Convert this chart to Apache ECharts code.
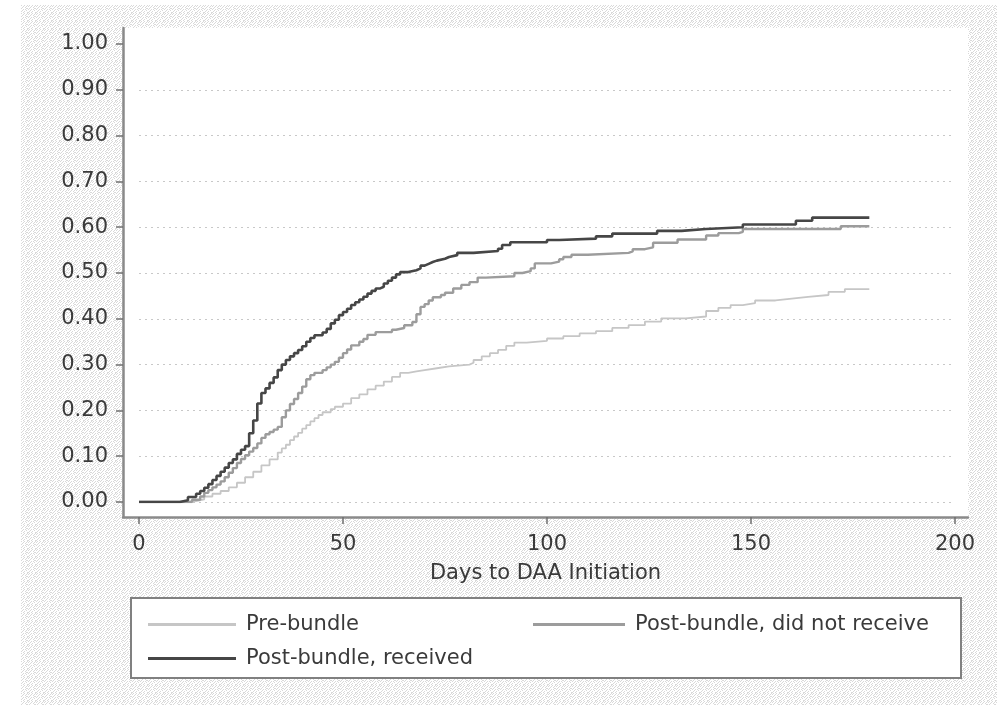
<!DOCTYPE html>
<html><head><meta charset="utf-8">
<script src="https://cdn.jsdelivr.net/npm/echarts@6/dist/echarts.min.js"></script>
<style>html,body{margin:0;padding:0;background:#fff}#c{width:997px;height:706px}</style>
</head><body><div id="c"></div>
<script>
const seriesNames = ['Pre-bundle', 'Post-bundle, did not receive', 'Post-bundle, received'];
const xTickValues = [0, 50, 100, 150, 200];
const yTickLabels = ['0.00','0.10','0.20','0.30','0.40','0.50','0.60','0.70','0.80','0.90','1.00'];
const xAxisTitle = 'Days to DAA Initiation';

const preDays = [0,12,14,16,18,20,22,24,26,28,30,32,34,35,36,37,38,39,40,41,42,43,44,45,47,48,50,52,54,56,58,60,62,64,66,68,70,73,76,81,82,84,86,88,90,92,95,100,104,108,112,116,120,124,128,134,139,142,145,148,151,156,160,164,169,173,179];
const preVals = [0,0.002,0.006,0.012,0.018,0.024,0.032,0.042,0.054,0.066,0.08,0.093,0.108,0.117,0.125,0.135,0.143,0.151,0.16,0.168,0.176,0.183,0.19,0.196,0.203,0.208,0.215,0.227,0.235,0.246,0.254,0.263,0.273,0.282,0.285,0.288,0.292,0.296,0.3,0.304,0.31,0.318,0.325,0.332,0.341,0.348,0.352,0.357,0.362,0.368,0.373,0.38,0.386,0.394,0.401,0.405,0.417,0.424,0.43,0.434,0.44,0.444,0.448,0.452,0.459,0.465,0.465];

const notRecDays = [0,13,15,16,17,18,19,20,21,22,23,24,25,26,27,28,29,30,31,32,33,34,35,36,37,38,39,40,41,42,43,45,46,47,48,49,50,51,52,54,55,56,58,62,63,65,67,68,69,70,71,72,74,75,77,79,81,83,85,92,94,96,97,101,103,104,106,110,120,121,124,126,132,139,142,147,148,172,179];
const notRecVals = [0,0.005,0.012,0.02,0.026,0.032,0.038,0.045,0.054,0.064,0.074,0.085,0.094,0.102,0.11,0.118,0.128,0.14,0.148,0.153,0.158,0.164,0.185,0.2,0.214,0.225,0.238,0.252,0.268,0.277,0.282,0.288,0.294,0.3,0.306,0.315,0.325,0.333,0.342,0.35,0.356,0.365,0.371,0.376,0.38,0.386,0.393,0.41,0.426,0.432,0.44,0.447,0.452,0.457,0.466,0.474,0.48,0.49,0.493,0.5,0.504,0.51,0.521,0.525,0.53,0.535,0.54,0.544,0.547,0.552,0.556,0.566,0.573,0.582,0.587,0.59,0.596,0.602,0.602];

const recDays = [0,10,12,14,15,16,17,18,19,20,21,22,23,24,25,26,27,28,29,30,31,32,33,34,35,36,37,38,39,40,41,42,43,45,46,47,48,49,50,51,52,53,54,55,56,57,58,59,60,61,62,63,64,66,68,69,70,71,72,73,75,76,78,82,88,89,91,100,103,112,116,127,133,139,148,161,165,179];
const recVals = [0,0.004,0.011,0.018,0.024,0.031,0.039,0.048,0.057,0.066,0.075,0.085,0.093,0.105,0.114,0.122,0.15,0.178,0.215,0.238,0.248,0.26,0.272,0.288,0.3,0.31,0.318,0.325,0.332,0.34,0.35,0.358,0.364,0.37,0.378,0.39,0.398,0.408,0.415,0.422,0.43,0.436,0.442,0.448,0.455,0.461,0.466,0.47,0.477,0.483,0.49,0.497,0.502,0.506,0.51,0.516,0.52,0.524,0.527,0.531,0.535,0.539,0.544,0.548,0.553,0.561,0.567,0.572,0.575,0.58,0.586,0.592,0.596,0.6,0.606,0.614,0.621,0.621];

const zip = (a, b) => a.map((d, i) => [d, b[i]]);
const yTickValues = yTickLabels.map(Number);

// light, irregular stipple pattern for the outer background
const stippleRows = [
  '10010010',
  '00100101',
  '01001000',
  '10000110',
  '00101001',
  '01000100',
  '10010000',
  '00100011'
];
const pc = document.createElement('canvas');
pc.width = 8; pc.height = 8;
const g = pc.getContext('2d');
g.fillStyle = '#ffffff'; g.fillRect(0, 0, 8, 8);
g.fillStyle = '#d9d9d9';
stippleRows.forEach((row, y) => row.split('').forEach((c, x) => { if (c === '1') g.fillRect(x, y, 1, 1); }));

const FONT = 'DejaVu Sans';
const TXT = '#3a3a3a';
const chart = echarts.init(document.getElementById('c'), null, {renderer: 'canvas'});

// frame axis ranges: plot region extends a little beyond the data range (Stata style)
const frameXMin = -3.92, frameXMax = 203.19;
const frameYMin = -0.0328, frameYMax = 1.0349;

const legendText = {fontFamily: FONT, fontSize: 21, color: TXT, padding: [0, 0, 0, 5]};

chart.setOption({
  animation: false,
  backgroundColor: '#ffffff',
  textStyle: {fontFamily: FONT},
  graphic: [
    {type: 'rect', left: 21, top: 5, z: -10, silent: true,
     shape: {width: 976, height: 700},
     style: {fill: {image: pc, repeat: 'repeat'}}},
    {type: 'rect', left: 130, top: 597, z: 3, silent: true,
     shape: {width: 830, height: 80},
     style: {fill: '#ffffff', stroke: '#808080', lineWidth: 2}}
  ],
  grid: [
    {left: 139, right: 42, top: 44, bottom: 204, show: false},
    {left: 123, right: 29, top: 28, bottom: 189, show: true, backgroundColor: '#ffffff', borderWidth: 0, z: -5}
  ],
  xAxis: [
    {type: 'value', gridIndex: 0, min: 0, max: 200, interval: 50, show: false},
    {type: 'value', gridIndex: 1, min: frameXMin, max: frameXMax, position: 'bottom',
     name: xAxisTitle, nameLocation: 'middle', nameGap: 46,
     nameTextStyle: {fontFamily: FONT, fontSize: 21, color: TXT},
     axisLine: {show: true, onZero: false, lineStyle: {color: '#8a8a8a', width: 2.5}},
     axisTick: {show: true, length: 7, customValues: xTickValues, lineStyle: {color: '#707070', width: 1.5}},
     axisLabel: {show: true, customValues: xTickValues, fontFamily: FONT, fontSize: 21, color: TXT, margin: 17,
       formatter: v => String(Math.round(v))},
     splitLine: {show: false}}
  ],
  yAxis: [
    {type: 'value', gridIndex: 0, min: 0, max: 1, interval: 0.1,
     axisLine: {show: false}, axisTick: {show: false}, axisLabel: {show: false},
     splitLine: {show: true, showMaxLine: false, lineStyle: {color: '#c8c8c8', width: 1, type: [2, 4]}}},
    {type: 'value', gridIndex: 1, min: frameYMin, max: frameYMax, position: 'left',
     axisLine: {show: true, onZero: false, lineStyle: {color: '#8a8a8a', width: 2.5}},
     axisTick: {show: true, length: 7, customValues: yTickValues, lineStyle: {color: '#707070', width: 1.5}},
     axisLabel: {show: true, customValues: yTickValues, fontFamily: FONT, fontSize: 21, color: TXT, margin: 15,
       formatter: v => v.toFixed(2)},
     splitLine: {show: false}}
  ],
  legend: [
    {data: [seriesNames[0]], left: 143, top: 609, icon: 'rect', itemWidth: 88, itemHeight: 3, z: 4, textStyle: legendText},
    {data: [seriesNames[1]], left: 528, top: 609, icon: 'rect', itemWidth: 92, itemHeight: 3, z: 4, textStyle: legendText},
    {data: [seriesNames[2]], left: 143, top: 643, icon: 'rect', itemWidth: 88, itemHeight: 3, z: 4, textStyle: legendText}
  ],
  series: [
    {name: seriesNames[0], type: 'line', xAxisIndex: 0, yAxisIndex: 0, step: 'end',
     symbol: 'none', data: zip(preDays, preVals),
     lineStyle: {color: '#c6c6c6', width: 1.8}, itemStyle: {color: '#c6c6c6'}},
    {name: seriesNames[1], type: 'line', xAxisIndex: 0, yAxisIndex: 0, step: 'end',
     symbol: 'none', data: zip(notRecDays, notRecVals),
     lineStyle: {color: '#9c9c9c', width: 2.4}, itemStyle: {color: '#9c9c9c'}},
    {name: seriesNames[2], type: 'line', xAxisIndex: 0, yAxisIndex: 0, step: 'end',
     symbol: 'none', data: zip(recDays, recVals),
     lineStyle: {color: '#464646', width: 2.6}, itemStyle: {color: '#464646'}}
  ]
});
</script>
</body></html>
